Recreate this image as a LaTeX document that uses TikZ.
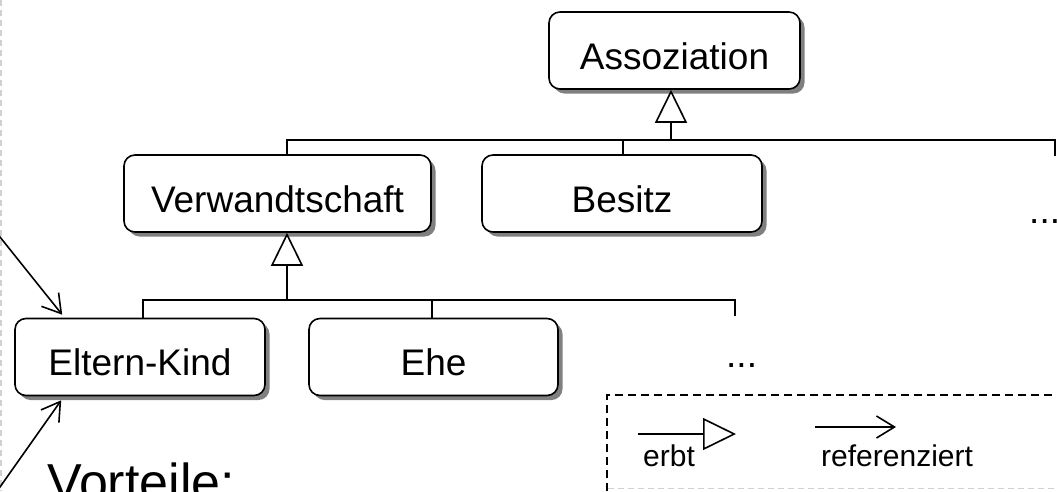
\documentclass[tikz,border=0pt]{standalone}
\usepackage{fontspec}
\setmainfont{Liberation Sans}
\usetikzlibrary{arrows.meta,shadows,calc}
\tikzset{
  cls/.style={draw, line width=1.6pt, fill=white, rounded corners=11pt,
    minimum height=77pt, text height=37pt, text depth=0pt, inner sep=0pt,
    font=\fontsize{37}{40}\selectfont,
    drop shadow={shadow xshift=4.5pt, shadow yshift=-4.5pt, fill=black!50, opacity=1}},
  conn/.style={line width=1.6pt},
  inh/.style={line width=1.6pt, -{Triangle[open, length=33pt, width=32pt]}},
  refa/.style={line width=1.6pt, -{Straight Barb[length=18pt, width=22pt]}},
  legtext/.style={font=\fontsize{30}{32}\selectfont, anchor=base west, inner sep=0pt},
  dots/.style={font=\fontsize{37}{40}\selectfont, anchor=base west, inner sep=0pt},
  frame/.style={line width=1.6pt, dash pattern=on 8pt off 5pt},
  ghost/.style={line width=1.6pt, black!18, dash pattern=on 6pt off 4pt}
}
\begin{document}
\begin{tikzpicture}[x=1pt, y=-1pt]
\useasboundingbox (0,0) rectangle (1057,491);
% slide frame remnants
\draw[ghost] (1,0) -- (1,491);
\draw[ghost] (608,488.5) -- (1057,488.5);
% class boxes
\node[cls, minimum width=251pt] (asz) at (674.5,50.5) {Assoziation};
\node[cls, minimum width=307pt] (ver) at (277.5,193.5) {Verwandtschaft};
\node[cls, minimum width=280pt] (bes) at (622,193.5) {Besitz};
\node[cls, minimum width=250pt] (ek) at (140,357) {Eltern-Kind};
\node[cls, minimum width=249pt] (ehe) at (433.5,357) {Ehe};
\node[dots] (d1) at (1029,223.5) {...};
\node[dots] (d2) at (726,367) {...};
% upper tree
\coordinate (j1) at (671,140);
\coordinate (j1l) at (287,140);
\coordinate (j1r) at (1055,140);
\coordinate (j1e) at (1055,156);
\draw[inh] (j1) -- (j1 |- asz.south);
\draw[conn] (j1l |- ver.north) -- (j1l) -- (j1r) -- (j1e);
\draw[conn] (623,140) -- (623,0 |- bes.north);
% lower tree
\coordinate (j2) at (287,300);
\coordinate (j2l) at (143,300);
\coordinate (j2r) at (735,300);
\coordinate (j2e) at (735,316);
\draw[inh] (j2) -- (j2 |- ver.south);
\draw[conn] (j2l |- ek.north) -- (j2l) -- (j2r) -- (j2e);
\draw[conn] (432,300) -- (432,0 |- ehe.north);
% references from the left
\coordinate (r1) at (-6,229.5);
\coordinate (r2) at (-6,495.5);
\draw[refa] (r1) -- ($(ek.north west)+(48,-3)$);
\draw[refa] (r2) -- ($(ek.south west)+(47,4)$);
% legend
\draw[frame] (607,491) -- (607,395) -- (1060,395);
\coordinate (la) at (638,434);
\coordinate (lb) at (736,434);
\coordinate (lc) at (815,427);
\coordinate (ld) at (896,427);
\draw[inh] (la) -- (lb);
\draw[refa] (lc) -- (ld);
\node[legtext] (erbt) at (643,466) {erbt};
\node[legtext] (ref) at (821,466) {referenziert};
% heading
\node[font=\fontsize{52}{56}\selectfont, anchor=base west, inner sep=0pt] (vt) at (47,500) {Vorteile:};
\end{tikzpicture}
\end{document}
